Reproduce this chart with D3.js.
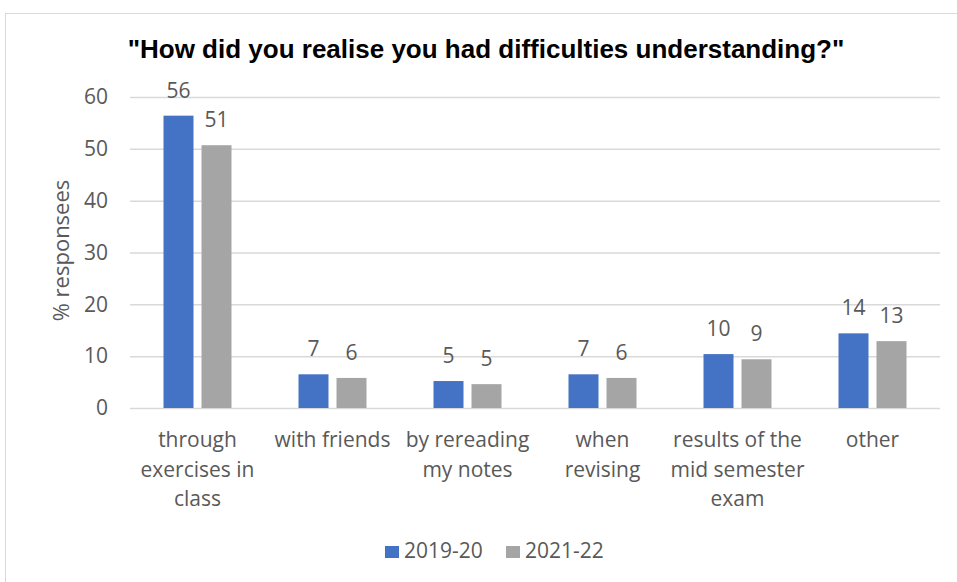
<!DOCTYPE html>
<html>
<head>
<meta charset="utf-8">
<script src="https://cdn.jsdelivr.net/npm/d3@7"></script>
<style>
  body { margin: 0; background: #fff; }
  text { font-family: "Open Sans", sans-serif; fill: #595959; }
</style>
</head>
<body>
<div id="chart"></div>
<script>
// categories (each split into the lines shown under the axis)
var categories = [
    ["through", "exercises in", "class"],
    ["with friends"],
    ["by rereading", "my notes"],
    ["when", "revising"],
    ["results of the", "mid semester", "exam"],
    ["other"]
];
var series = ["2019-20", "2021-22"];
var values_2019 = [56.4, 6.5, 5.2, 6.5, 10.4, 14.4];
var values_2021 = [50.7, 5.8, 4.6, 5.8, 9.4, 12.9];
var yTicks = [0, 10, 20, 30, 40, 50, 60];
var colors = ["#4472C4", "#A5A5A5"];

var width = 957, height = 582;
var margin = { top: 97, right: 17, bottom: 174, left: 130 };
var plotW = width - margin.left - margin.right,
    plotH = height - margin.top - margin.bottom;

var svg = d3.select("#chart").append("svg")
    .attr("width", width)
    .attr("height", height);

// chart border
svg.append("rect")
    .attr("x", 5.5).attr("y", 13.5)
    .attr("width", 1000).attr("height", 1000)
    .attr("fill", "none")
    .attr("stroke", "#d9d9d9")
    .attr("stroke-width", 1);

// title
svg.append("text")
    .attr("x", 486).attr("y", 58)
    .attr("text-anchor", "middle")
    .style("font-family", "'Liberation Sans', Arial, sans-serif")
    .style("font-weight", "bold")
    .style("font-size", "26px")
    .style("fill", "#000")
    .text('"How did you realise you had difficulties understanding?"');

var g = svg.append("g")
    .attr("transform", "translate(" + margin.left + "," + margin.top + ")");

var y = d3.scaleLinear().domain([0, 60]).range([plotH, 0]);
var x0 = d3.scaleBand().domain(d3.range(categories.length)).range([0, plotW]);
var x1 = d3.scaleBand().domain(series).range([0, 68]).paddingInner(2 - 68 / 38);
var groupOffset = (x0.bandwidth() - 68) / 2;

// gridlines
var yAxis = d3.axisLeft(y).tickValues(yTicks).tickSize(-plotW).tickPadding(22);
var ya = g.append("g").call(yAxis);
ya.select(".domain").remove();
ya.selectAll(".tick line").attr("stroke", "#d9d9d9").attr("stroke-width", 1.5);
ya.selectAll(".tick text")
    .style("font-family", "'Open Sans', sans-serif")
    .style("font-size", "21px")
    .style("fill", "#595959");

// y axis title
svg.append("text")
    .attr("transform", "translate(69," + (margin.top + plotH / 2 - 2) + ") rotate(-90)")
    .attr("text-anchor", "middle")
    .style("font-size", "22px")
    .text("% responsees");

var data = [];
categories.forEach(function (c, i) {
    data.push({ cat: i, s: series[0], v: values_2019[i] });
    data.push({ cat: i, s: series[1], v: values_2021[i] });
});

g.selectAll(".bar")
    .data(data)
    .enter().append("rect")
    .attr("class", "bar")
    .attr("x", function (d) { return x0(d.cat) + groupOffset + x1(d.s); })
    .attr("y", function (d) { return y(d.v); })
    .attr("width", x1.bandwidth())
    .attr("height", function (d) { return plotH - y(d.v); })
    .attr("fill", function (d) { return colors[series.indexOf(d.s)]; });

// value labels
g.selectAll(".lbl")
    .data(data)
    .enter().append("text")
    .attr("class", "lbl")
    .attr("x", function (d) { return x0(d.cat) + groupOffset + x1(d.s) + x1.bandwidth() / 2; })
    .attr("y", function (d) { return y(d.v) - 18; })
    .attr("text-anchor", "middle")
    .style("font-size", "21px")
    .text(function (d) { return Math.round(d.v); });

// category labels
categories.forEach(function (lines, i) {
    var t = g.append("text")
        .attr("text-anchor", "middle")
        .attr("transform", "translate(" + (x0(i) + x0.bandwidth() / 2) + "," + (plotH + 39) + ")")
        .style("font-size", "21px");
    lines.forEach(function (line, j) {
        t.append("tspan").attr("x", 0).attr("y", j * 29.5).text(line);
    });
});

// legend
var legend = svg.append("g").attr("transform", "translate(385,546)");
var legX = [0, 121];
series.forEach(function (s, i) {
    legend.append("rect")
        .attr("x", legX[i]).attr("y", 0)
        .attr("width", 14).attr("height", 12)
        .attr("fill", colors[i]);
    legend.append("text")
        .attr("x", legX[i] + 19).attr("y", 12)
        .style("font-size", "21px")
        .text(s);
});
</script>
</body>
</html>
